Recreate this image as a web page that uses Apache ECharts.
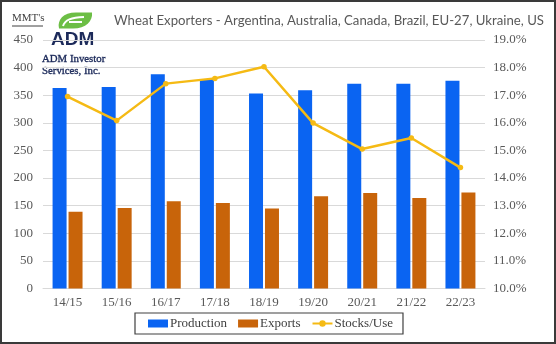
<!DOCTYPE html>
<html>
<head>
<meta charset="utf-8">
<script src="https://cdn.jsdelivr.net/npm/echarts@6/dist/echarts.min.js"></script>
<style>
  html, body { margin: 0; padding: 0; background: #fff; }
  #chart { width: 556px; height: 344px; }
</style>
</head>
<body>
<div id="chart"></div>
<script>
// Marketing years
const categories = ['14/15', '15/16', '16/17', '17/18', '18/19', '19/20', '20/21', '21/22', '22/23'];
// Million metric tonnes
const production = [363, 365, 388, 379, 353, 359, 371, 371, 376];
const exportVolume = [139, 146, 158, 155, 145, 167, 173, 164, 174];
// Ending stocks as a share of use, percent
const stocksUse = [16.95, 16.08, 17.42, 17.61, 18.03, 15.99, 15.05, 15.45, 14.38];

const serif = '"Liberation Serif", "DejaVu Serif", serif';
const axisGray = '#595959';

// leaf mark of the company logo
echarts.graphic.registerShape('admLeaf', echarts.graphic.extendPath(
  'M59,28.5 C57,20 63,12.5 76,12.5 L92,12.5 C93,21 86,28.5 73,28.5 Z', {}));
echarts.graphic.registerShape('admLeafVein', echarts.graphic.extendPath(
  'M63,26 C65,20 71,17.5 84,17 M69,22 L82,22', {}));

const chart = echarts.init(document.getElementById('chart'));
chart.setOption({
  animation: false,
  backgroundColor: '#fff',
  title: {
    text: 'Wheat Exporters - Argentina, Australia, Canada, Brazil, EU-27, Ukraine, US',
    left: 109,
    top: 9,
    textStyle: { fontFamily: 'Lato, "Open Sans", sans-serif', fontSize: 13.2, fontWeight: 'normal', color: '#595959' }
  },
  grid: { left: 43, right: 71, top: 40, bottom: 55.5 },
  legend: {
    top: 313,
    left: 135,
    itemWidth: 20,
    itemHeight: 8,
    itemGap: 11,
    padding: [4, 10, 4, 13],
    borderColor: '#404040',
    borderWidth: 1.2,
    textStyle: { fontFamily: serif, fontSize: 13, color: '#404040', padding: [0, 0, 0, -3] },
    data: [
      { name: 'Production', icon: 'rect' },
      { name: 'Exports', icon: 'rect' },
      { name: 'Stocks/Use' }
    ]
  },
  xAxis: {
    type: 'category',
    data: categories,
    axisTick: { show: false },
    axisLine: { lineStyle: { color: '#d9d9d9' } },
    axisLabel: { fontFamily: serif, fontSize: 13, color: axisGray, margin: 8 }
  },
  yAxis: [
    {
      type: 'value',
      min: 0, max: 450, interval: 50,
      axisLine: { show: false },
      axisTick: { show: false },
      splitLine: { lineStyle: { color: '#d9d9d9' } },
      axisLabel: { fontFamily: serif, fontSize: 13, color: axisGray, margin: 10 }
    },
    {
      type: 'value',
      min: 10, max: 19, interval: 1,
      axisLine: { show: false },
      axisTick: { show: false },
      splitLine: { show: false },
      axisLabel: {
        fontFamily: serif, fontSize: 13, color: axisGray, margin: 8,
        formatter: v => v.toFixed(1) + '%'
      }
    }
  ],
  series: [
    {
      name: 'Production', type: 'bar', data: production,
      barWidth: 14, barGap: '14%',
      itemStyle: { color: '#0A64F2' }
    },
    {
      name: 'Exports', type: 'bar', data: exportVolume,
      barWidth: 14,
      itemStyle: { color: '#C8640A' }
    },
    {
      name: 'Stocks/Use', type: 'line', yAxisIndex: 1, data: stocksUse,
      symbol: 'circle', symbolSize: 5.5,
      lineStyle: { color: '#F5BA14', width: 2.5 },
      itemStyle: { color: '#F5BA14' }
    }
  ],
  graphic: [
    // outer frame
    { type: 'rect', shape: { x: 1, y: 1, width: 554, height: 342 }, style: { fill: 'none', stroke: '#3a3a3a', lineWidth: 2 }, silent: true },
    // units label
    { type: 'text', x: 12, y: 13, style: { text: "MMT's", font: '11px ' + serif, fill: '#404040' } },
    { type: 'line', shape: { x1: 12, y1: 26, x2: 43, y2: 26 }, style: { stroke: '#404040', lineWidth: 1 } },
    // company logo
    { type: 'admLeaf', style: { fill: '#6CBE45' } },
    { type: 'admLeafVein', style: { stroke: '#fff', lineWidth: 2, fill: null } },
    { type: 'text', x: 51, y: 30, style: { text: 'ADM', font: '900 19px "Liberation Sans", Arial, sans-serif', fill: '#1c2a5a' } },
    { type: 'text', x: 42, y: 53, style: { text: 'ADM Investor\nServices, Inc.', font: '10.8px ' + serif, lineHeight: 12, fill: '#1c2a5a', stroke: '#1c2a5a', lineWidth: 0.35 } }
  ]
});
</script>
</body>
</html>
